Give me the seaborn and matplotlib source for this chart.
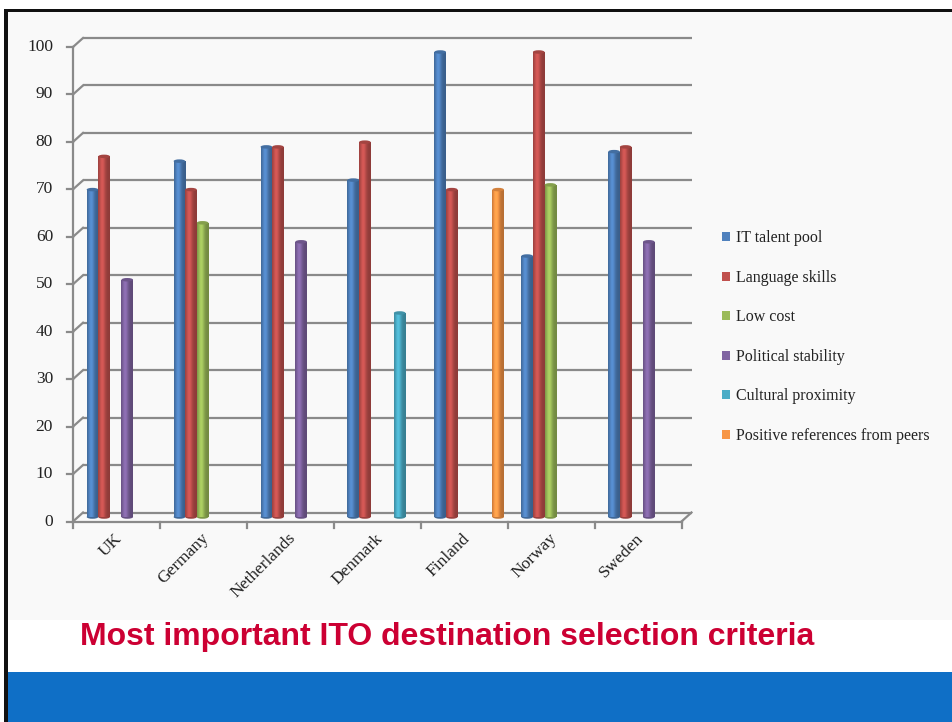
import numpy as np
import pandas as pd
import matplotlib
matplotlib.use("Agg")
import matplotlib.pyplot as plt
import matplotlib.transforms as mtransforms
from matplotlib.patches import Rectangle, Ellipse
from matplotlib.colors import to_rgb
import seaborn as sns

# ---- data ----
countries = ["UK", "Germany", "Netherlands", "Denmark", "Finland", "Norway", "Sweden"]
criteria = ["IT talent pool", "Language skills", "Low cost", "Political stability",
            "Cultural proximity", "Positive references from peers"]
it_talent_pool = [69, 75, 78, 71, 98, 55, 77]
language_skills = [76, 69, 78, 79, 69, 98, 78]
low_cost = [None, 62, None, None, None, 70, None]
political_stability = [50, None, 58, None, None, None, 58]
cultural_proximity = [None, None, None, 43, None, None, None]
positive_references = [None, None, None, None, 69, None, None]
yticks = [0, 10, 20, 30, 40, 50, 60, 70, 80, 90, 100]
title = "Most important ITO destination selection criteria"

colors = ["#4F81BD", "#C0504D", "#9BBB59", "#8064A2", "#4BACC6", "#F79646"]

series = [it_talent_pool, language_skills, low_cost, political_stability,
          cultural_proximity, positive_references]
rows = []
for crit, vals in zip(criteria, series):
    for c, v in zip(countries, vals):
        if v is not None:
            rows.append({"country": c, "criterion": crit, "score": v})
df = pd.DataFrame(rows)

# ---- figure & background ----
W, H = 953, 722
fig = plt.figure(figsize=(W / 100, H / 100), dpi=100)
fig.patch.set_facecolor("white")


def frect(x0, y0, x1, y1, color, z=-10):
    fig.patches.append(Rectangle((x0 / W, 1 - y1 / H), (x1 - x0) / W, (y1 - y0) / H,
                                 transform=fig.transFigure, facecolor=color,
                                 edgecolor="none", zorder=z))


frect(8, 12, W, 620, "#F9F9F9")
frect(8, 620, W, 672, "white")
frect(8, 672, W, H, "#0F6FC6")
frect(4, 9, W, 12, "#111111", z=-9)
frect(4, 9, 8, H, "#111111", z=-9)

# ---- axes (bars sit at mid depth of the 3D box) ----
ax_l, ax_r = 78, 686.5
ax_b, ax_t = 517, 42.5
ax = fig.add_axes([ax_l / W, 1 - ax_b / H, (ax_r - ax_l) / W, (ax_b - ax_t) / H])
ax.set_facecolor("none")
ax.set_zorder(1)

sns.barplot(data=df, x="country", y="score", hue="criterion", order=countries,
            hue_order=criteria, palette=colors, saturation=1, dodge=True,
            width=0.8, legend=False, ax=ax, edgecolor="none", zorder=3)

ax.set_xlim(-0.5, len(countries) - 0.5)
ax.set_ylim(0, 100)
for s in ax.spines.values():
    s.set_visible(False)
ax.set_xticks([])
ax.set_yticks([])
ax.set_xlabel("")
ax.set_ylabel("")

# depth offsets of front and back planes, in pixels
back = mtransforms.offset_copy(ax.transData, fig=fig, x=5, y=4.5, units="dots")
front = mtransforms.offset_copy(ax.transData, fig=fig, x=-5, y=-4.5, units="dots")
px_x = (len(countries)) / (ax_r - ax_l)
px_y = 100 / (ax_b - ax_t)
gray = "#8A8A8A"
lw = 1.6
xmin, xmax = -0.5, len(countries) - 0.5
text_color = "#222222"

ylab_tr = mtransforms.offset_copy(ax.transData, fig=fig, x=-25, y=-4.5, units="dots")
for v in yticks:
    # back wall gridline
    ax.plot([xmin, xmax], [v, v], color=gray, lw=lw, transform=back,
            clip_on=False, zorder=1, solid_capstyle="butt")
    # side-wall diagonal joining front axis to back gridline
    ax.plot([xmin - 5 * px_x, xmin + 5 * px_x], [v - 4.5 * px_y, v + 4.5 * px_y],
            color=gray, lw=lw, clip_on=False, zorder=1)
    # tick mark on the front axis
    ax.plot([xmin, xmin - 6 * px_x], [v, v], color=gray, lw=lw,
            transform=front, clip_on=False, zorder=1)
    ax.text(xmin, v, str(v), transform=ylab_tr, ha="right", va="center",
            fontsize=12.5, family="Liberation Serif", color=text_color)

# front vertical axis and floor edges
ax.plot([xmin, xmin], [0, 100], color=gray, lw=lw, transform=front, clip_on=False, zorder=1)
ax.plot([xmin, xmax], [0, 0], color=gray, lw=lw, transform=front, clip_on=False, zorder=4)
ax.plot([xmax - 5 * px_x, xmax + 5 * px_x], [-4.5 * px_y, 4.5 * px_y],
        color=gray, lw=lw, clip_on=False, zorder=4)
for b in np.arange(xmin, xmax + 0.01, 1.0):
    ax.plot([b, b], [0, -6 * px_y], color=gray, lw=lw, transform=front,
            clip_on=False, zorder=4)

# category labels along the front edge
lab_tr = mtransforms.offset_copy(ax.transData, fig=fig, x=-2, y=-19, units="dots")
for i, c in enumerate(countries):
    ax.text(i, 0, c, transform=lab_tr, rotation=45, rotation_mode="anchor",
            ha="right", va="center", fontsize=12.5, family="Liberation Serif",
            color=text_color)

# cylinder shading on each bar
bars = [p for p in ax.patches if p.get_height() > 0]
for p in bars:
    x0, w, h = p.get_x(), p.get_width(), p.get_height()
    base = np.array(to_rgb(p.get_facecolor()))
    t = np.linspace(0, 1, 32)
    shade = 0.74 + 0.38 * np.exp(-((t - 0.35) / 0.28) ** 2)
    grad = np.clip(base[None, :] * shade[:, None], 0, 1)[None, :, :]
    im = ax.imshow(grad, extent=(x0, x0 + w, 0, h), aspect="auto",
                   interpolation="bilinear", zorder=3.5)
    im.set_clip_path(p)
    cap_h = 3.5 * px_y
    ax.add_patch(Ellipse((x0 + w / 2, h), w, cap_h,
                         facecolor=np.clip(base * 0.85, 0, 1), edgecolor="none",
                         zorder=3.6, clip_on=False))
    ax.add_patch(Ellipse((x0 + w / 2, 0), w, cap_h,
                         facecolor=np.clip(base * 0.8, 0, 1), edgecolor="none",
                         zorder=3.4, clip_on=False))
ax.set_xlim(xmin, xmax)
ax.set_ylim(0, 100)

# legend
handles = [Rectangle((0, 0), 1, 1, facecolor=col, edgecolor="none") for col in colors]
leg = fig.legend(handles, criteria, loc="upper left",
                 bbox_to_anchor=(716 / W, 1 - 224 / H), frameon=False,
                 prop={"family": "Liberation Serif", "size": 11.5},
                 handlelength=0.5, handleheight=0.5, handletextpad=0.35,
                 labelspacing=1.47, borderaxespad=0)
for t in leg.get_texts():
    t.set_color(text_color)

# title band
fig.text(80 / W, 1 - 637 / H, title, ha="left", va="center",
         family="Liberation Sans", fontweight="bold",
         fontsize=23, color="#CC0033")

fig.savefig("out.png", dpi=100)
